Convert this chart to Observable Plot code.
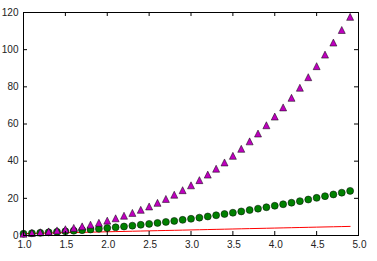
<!DOCTYPE html>
<html><head><meta charset="utf-8">
<script src="https://cdn.jsdelivr.net/npm/d3@7"></script>
<script src="https://cdn.jsdelivr.net/npm/@observablehq/plot@0.6"></script>
<style>body{margin:0;background:#fff}</style>
</head><body><div id="chart"></div>
<script>
const xs = [1.0,1.1,1.2,1.3,1.4,1.5,1.6,1.7,1.8,1.9,2.0,2.1,2.2,2.3,2.4,2.5,2.6,2.7,2.8,2.9,3.0,3.1,3.2,3.3,3.4,3.5,3.6,3.7,3.8,3.9,4.0,4.1,4.2,4.3,4.4,4.5,4.6,4.7,4.8,4.9];
const lineVals = [1.0,1.1,1.2,1.3,1.4,1.5,1.6,1.7,1.8,1.9,2.0,2.1,2.2,2.3,2.4,2.5,2.6,2.7,2.8,2.9,3.0,3.1,3.2,3.3,3.4,3.5,3.6,3.7,3.8,3.9,4.0,4.1,4.2,4.3,4.4,4.5,4.6,4.7,4.8,4.9];
const circleVals = [1.00,1.21,1.44,1.69,1.96,2.25,2.56,2.89,3.24,3.61,4.00,4.41,4.84,5.29,5.76,6.25,6.76,7.29,7.84,8.41,9.00,9.61,10.24,10.89,11.56,12.25,12.96,13.69,14.44,15.21,16.00,16.81,17.64,18.49,19.36,20.25,21.16,22.09,23.04,24.01];
const triangleVals = [1.000,1.331,1.728,2.197,2.744,3.375,4.096,4.913,5.832,6.859,8.000,9.261,10.648,12.167,13.824,15.625,17.576,19.683,21.952,24.389,27.000,29.791,32.768,35.937,39.304,42.875,46.656,50.653,54.872,59.319,64.000,68.921,74.088,79.507,85.184,91.125,97.336,103.823,110.592,117.649];
const xTicks = [1.0,1.5,2.0,2.5,3.0,3.5,4.0,4.5,5.0];
const yTicks = [0,20,40,60,80,100,120];

const W = 377, H = 261, mL = 23, mR = 19, mT = 12, mB = 26;
const fw = W - mL - mR, fh = H - mT - mB, tl = 4;

const lineData = xs.map((x, i) => ({x, y: lineVals[i]}));
const circData = xs.map((x, i) => ({x, y: circleVals[i]}));
const triData = xs.map((x, i) => ({x, y: triangleVals[i]}));

const tri = {draw(ctx, size) { const s = Math.sqrt(size / Math.PI); ctx.moveTo(0, -s); ctx.lineTo(s, s); ctx.lineTo(-s, s); ctx.closePath(); }};

const chart = Plot.plot({
  width: W, height: H,
  marginLeft: mL, marginRight: mR, marginTop: mT, marginBottom: mB,
  style: {fontFamily: "'Liberation Sans Narrow', 'Arial Narrow', 'Liberation Sans', sans-serif", fontSize: "10px", color: "#222", background: "white"},
  x: {domain: [1, 5]},
  y: {domain: [0, 120]},
  marks: [
    Plot.axisX({ticks: xTicks, tickSize: 0, tickPadding: 5, dx: 1, tickFormat: d => d.toFixed(1), label: null}),
    Plot.axisY({ticks: yTicks, tickSize: 0, tickPadding: 5, tickFormat: d => String(d), label: null}),
    Plot.line(lineData, {x: "x", y: "y", stroke: "#ff0000", strokeWidth: 1}),
    Plot.dot(circData, {x: "x", y: "y", r: 3.5, fill: "#008000", stroke: "black", strokeWidth: 0.5}),
    Plot.dot(triData, {x: "x", y: "y", r: 3.5, symbol: tri, fill: "#bf00bf", stroke: "black", strokeWidth: 0.5}),
    Plot.tickX(xTicks, {x: d => d, insetTop: fh - tl, stroke: "black"}),
    Plot.tickX(xTicks, {x: d => d, insetBottom: fh - tl, stroke: "black"}),
    Plot.tickY(yTicks, {y: d => d, insetRight: fw - tl, stroke: "black"}),
    Plot.tickY(yTicks, {y: d => d, insetLeft: fw - tl, stroke: "black"}),
    Plot.frame({stroke: "black", strokeWidth: 1})
  ]
});
document.getElementById("chart").appendChild(chart);
</script></body></html>
